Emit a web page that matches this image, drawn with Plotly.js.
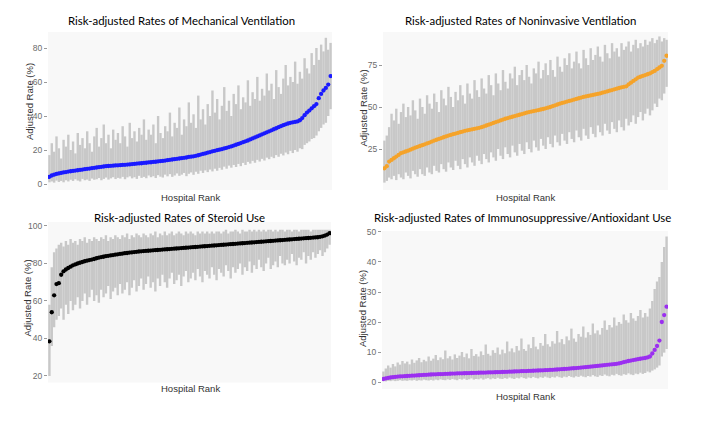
<!DOCTYPE html>
<html>
<head>
<meta charset="utf-8">
<script src="https://cdn.plot.ly/plotly-3.0.1.min.js"></script>
<style>html,body{margin:0;padding:0;background:#fff;}#chart{width:703px;height:421px;}</style>
</head>
<body>
<div id="chart"></div>
<script>
// ---- Data, hospitals sorted by adjusted rate ----
const mvRate = [4.2,5.0,5.5,5.9,6.2,6.5,6.8,7.0,7.3,7.5, 7.7,7.9,8.1,8.3,8.5,8.7,8.9,9.1,9.3,9.5, 9.7,9.9,10.1,10.3,10.5,10.6,10.7,10.8,10.9,11.0, 11.1,11.2,11.3,11.4,11.5,11.7,11.8,12.0,12.1,12.2, 12.4,12.5,12.7,12.8,13.0,13.1,13.3,13.5,13.6,13.8, 14.0,14.2,14.4,14.6,14.8,15.0,15.2,15.4,15.6,15.9, 16.1,16.3,16.6,16.9,17.3,17.7,18.0,18.4,18.8,19.2, 19.5,19.9,20.2,20.5,20.9,21.3,21.7,22.1,22.6,23.1, 23.6,24.1,24.6,25.1,25.6,26.2,26.8,27.4,28.0,28.6, 29.2,29.8,30.4,31.0,31.6,32.2,32.8,33.4,34.0,34.6, 35.1,35.6,36.0,36.3,36.5,36.8,37.5,38.8,40.5,42.0, 43.2,44.5,45.8,47.0,50.5,53.0,55.0,56.5,58.5,63.5];
const mvUpper = [17,24,19,28,21,15,26,22,29,20, 25,18,30,23,27,21,31,24,19,28, 33,22,27,35,24,29,21,32,26,30, 24,34,28,22,36,27,31,25,33,29, 38,26,32,29,35,24,40,30,27,34, 31,42,28,36,33,45,29,38,34,48, 36,41,33,52,38,44,35,47,40,55, 42,50,38,46,57,43,49,40,53,47, 58,44,51,48,61,46,54,50,63,49, 56,52,65,55,59,50,67,57,53,62, 70,58,63,60,72,59,66,62,74,68, 65,77,70,80,73,82,78,86,79,83];
const mvLower = [1.0,1.5,0.8,2.0,1.2,1.8,1.0,2.2,1.5,2.5, 1.8,2.8,2.0,1.5,3.0,2.2,2.6,1.8,3.2,2.5, 2.8,3.5,2.2,3.0,3.8,2.6,3.3,4.0,2.9,3.6, 3.2,4.2,2.8,3.9,4.5,3.3,4.0,3.0,4.8,3.6, 4.2,3.4,5.0,4.0,4.6,3.5,5.2,4.3,3.8,5.5, 4.5,5.8,4.2,5.0,6.2,4.8,5.5,6.5,4.6,6.0, 6.8,5.4,7.2,6.0,7.8,6.5,8.0,7.0,8.5,7.4, 9.0,7.8,9.5,8.4,10.2,9.0,10.8,9.6,11.2,10.0, 11.8,10.5,12.4,11.2,13.0,12.0,13.6,12.5,14.2,13.2, 14.8,13.8,15.5,14.6,16.0,15.2,17.0,16.0,17.8,16.8, 18.5,17.5,19.5,18.2,20.0,19.0,21.0,20.5,23.0,24.0, 25.0,26.5,27.0,28.5,31.0,33.0,35.0,36.0,40.0,44.0];

const nivRate = [13.5,14.8,17.5,18.5,19.5,20.5,21.5,22.5,23.0,23.5, 24.0,24.6,25.2,25.8,26.3,26.8,27.3,27.8,28.3,28.8, 29.4,30.0,30.5,31.0,31.5,32.0,32.5,33.0,33.4,33.8, 34.2,34.6,35.0,35.4,35.8,36.1,36.4,36.7,37.0,37.3, 37.6,38.0,38.5,39.0,39.5,40.0,40.5,41.0,41.5,42.0, 42.5,43.0,43.4,43.8,44.2,44.6,45.0,45.4,45.8,46.2, 46.6,47.0,47.3,47.6,47.9,48.2,48.5,48.8,49.2,49.6, 50.0,50.5,51.0,51.5,52.0,52.4,52.8,53.2,53.6,54.0, 54.4,54.8,55.2,55.6,56.0,56.3,56.6,56.9,57.2,57.5, 57.8,58.1,58.5,58.9,59.3,59.7,60.1,60.5,60.9,61.3, 61.7,62.0,62.3,63.5,64.5,65.5,66.5,67.5,68.0,68.5, 69.0,69.5,70.0,70.8,71.5,72.5,73.5,74.5,77.5,80.5];
const nivUpper = [30,33,38,46,42,49,40,47,52,44, 50,45,54,48,43,55,50,46,57,52, 49,58,53,47,60,55,51,62,56,50, 59,54,63,57,52,64,58,55,66,60, 56,67,61,58,69,63,57,70,64,60, 72,65,61,70,67,74,63,69,72,66, 75,68,64,73,70,77,67,72,76,69, 78,72,68,80,74,71,79,75,82,73, 77,83,76,73,84,79,75,85,78,81, 86,80,77,87,82,79,88,83,85,80, 88,84,86,89,83,87,90,85,88,86, 90,87,89,91,88,90,92,89,91,90];
const nivLower = [5,6,8,7,9,6.5,10,8,7,11, 9,7.5,12,10,8.5,13,10,9,14,11, 10,15,12,11,16,13,11.5,17,14,12.5, 18,15,13,19,16,14,20,17,15,21, 18,16,22,19,17,23,20,18,25,21, 19,26,22,20,27,23,21,28,24,22, 29,25,23,30,26,24,31,27,25,32, 28,26,33,29,27,34,30,28,35,31, 29,36,32,30,37,33,31,38,34,32, 39,35,33,40,36,34,41,37,35,42, 38,36,43,39,41,45,40,44,47,42, 46,49,45,48,52,50,55,54,58,62];

const sterRate = [38.5,54.0,63.0,69.0,69.5,74.0,75.8,76.8,77.6,78.3, 79.0,79.5,80.0,80.4,80.8,81.2,81.5,81.8,82.1,82.4, 82.8,83.1,83.4,83.6,83.9,84.1,84.3,84.5,84.7,84.9, 85.1,85.3,85.5,85.6,85.8,85.9,86.1,86.2,86.4,86.5, 86.6,86.7,86.8,86.9,87.0,87.1,87.2,87.3,87.4,87.5, 87.6,87.7,87.8,87.9,88.0,88.1,88.2,88.3,88.4,88.5, 88.6,88.7,88.8,88.9,89.0,89.1,89.2,89.3,89.4,89.5, 89.6,89.7,89.8,89.9,90.0,90.1,90.2,90.3,90.4,90.5, 90.6,90.7,90.8,90.9,91.0,91.1,91.2,91.3,91.4,91.5, 91.6,91.7,91.8,91.9,92.0,92.1,92.2,92.3,92.4,92.5, 92.6,92.7,92.8,92.9,93.0,93.1,93.2,93.3,93.4,93.5, 93.6,93.7,93.8,93.9,94.0,94.2,94.5,94.9,95.4,96.2];
const sterUpper = [58,78,86,88,90,91,89,92,90,93, 91,92,90,93,92,94,91,93,92,94, 93,92,94,93,95,92,94,93,95,94, 93,95,94,96,93,95,94,96,95,94, 96,95,94,96,95,97,94,96,95,97, 95,96,97,95,96,97,96,95,97,96, 97,96,95,97,96,97,96,97,96,97, 96,97,97,96,97,98,96,97,97,98, 97,96,98,97,97,98,97,98,97,98, 97,98,97,98,98,97,98,97,98,98, 97,98,98,97,98,98,97,98,98,98, 98,97,98,98,98,98,98,98,98,98];
const sterLower = [20,36,46,50,52,56,50,58,53,60, 55,58,62,56,60,64,58,62,66,60, 63,59,66,62,64,68,61,65,67,63, 69,64,66,70,63,67,71,65,68,72, 66,69,73,67,70,65,72,68,74,70, 67,72,75,69,71,74,68,73,76,70, 72,75,71,77,73,70,76,74,72,78, 74,71,77,75,73,79,76,72,78,75, 77,80,74,78,76,81,75,79,77,82, 78,76,80,83,77,79,81,78,84,80, 79,82,80,85,81,79,83,82,86,80, 84,82,86,83,85,87,84,86,88,90];

const immRate = [1.0,1.2,1.35,1.5,1.6,1.7,1.8,1.85,1.9,1.95, 2.0,2.05,2.1,2.15,2.2,2.25,2.3,2.35,2.4,2.45, 2.5,2.52,2.55,2.6,2.62,2.65,2.7,2.72,2.75,2.8, 2.82,2.85,2.88,2.9,2.92,2.95,2.98,3.0,3.02,3.05, 3.08,3.1,3.12,3.15,3.18,3.2,3.22,3.25,3.28,3.3, 3.33,3.36,3.4,3.43,3.46,3.5,3.53,3.56,3.6,3.63, 3.66,3.7,3.73,3.76,3.8,3.83,3.86,3.9,3.94,3.98, 4.02,4.07,4.12,4.17,4.22,4.28,4.34,4.4,4.46,4.52, 4.58,4.65,4.72,4.8,4.88,4.96,5.04,5.12,5.2,5.28, 5.36,5.45,5.54,5.63,5.72,5.8,5.88,5.96,6.05,6.2, 6.4,6.6,6.8,7.0,7.15,7.3,7.45,7.6,7.75,7.9, 8.0,8.2,8.5,9.5,10.7,12.0,13.8,20.0,22.3,25.1];
const immUpper = [3.5,4.5,5.5,4.8,6.0,5.2,6.5,5.8,7.0,6.2, 6.8,5.9,7.5,6.4,7.2,8.0,6.6,7.4,6.9,8.5, 7.1,7.8,9.0,7.3,8.2,7.6,10.5,7.9,8.6,7.5, 9.2,8.0,8.8,10.0,8.3,9.5,7.9,11.0,8.7,9.3, 8.5,10.2,9.0,12.5,9.4,8.8,10.6,9.7,11.5,9.2, 10.8,9.6,13.5,10.2,11.2,9.9,12.0,10.5,14.5,11.0, 10.4,12.5,11.3,15.0,11.8,10.9,13.0,12.1,16.0,12.6, 11.8,13.6,12.8,17.0,13.2,14.3,12.6,15.2,13.9,17.8, 14.5,13.4,16.0,15.1,18.5,14.8,16.6,15.7,19.5,16.2, 17.2,15.8,18.0,20.5,17.4,19.0,18.2,21.5,18.8,20.0, 19.4,22.5,20.6,19.8,23.0,21.2,20.4,22.0,24.0,21.5, 23.0,21.8,24.5,27.0,31.0,33.5,35.0,40.0,45.0,48.5];
const immLower = [0.3,0.2,0.4,0.3,0.5,0.3,0.4,0.6,0.4,0.5, 0.4,0.6,0.5,0.7,0.4,0.6,0.5,0.8,0.6,0.5, 0.7,0.5,0.8,0.6,0.9,0.7,0.6,0.9,0.7,1.0, 0.8,0.6,1.0,0.8,1.1,0.7,0.9,1.2,0.8,1.0, 0.9,1.2,0.8,1.1,1.3,0.9,1.2,1.0,1.4,1.1, 1.0,1.3,1.1,1.5,1.2,1.0,1.4,1.2,1.6,1.3, 1.1,1.5,1.3,1.7,1.4,1.2,1.6,1.4,1.8,1.5, 1.3,1.7,1.5,1.9,1.6,1.4,1.8,1.6,2.0,1.7, 1.5,1.9,1.7,2.1,1.8,1.6,2.0,1.8,2.3,1.9, 1.7,2.2,2.0,2.5,2.1,1.9,2.4,2.2,2.7,2.3, 2.1,2.6,2.4,2.9,2.5,2.3,2.8,2.6,3.1,2.7, 3.0,3.5,3.2,3.8,4.2,4.8,5.5,8.5,9.8,11.0];

const panelTitles = ["Risk-adjusted Rates of Mechanical Ventilation","Risk-adjusted Rates of Noninvasive Ventilation","Risk-adjusted Rates of Steroid Use","Risk-adjusted Rates of Immunosuppressive/Antioxidant Use"];
const xTitle = "Hospital Rank";
const yTitle = "Adjusted Rate (%)";
const yTicks1 = [0,20,40,60,80];
const yTicks2 = [25,50,75];
const yTicks3 = [20,40,60,80,100];
const yTicks4 = [0,10,20,30,40,50];

// ---- Build ----
const W = 703, H = 421;
const px = v => v / W;
const py = v => 1 - v / H;

function panel(rate, upper, lower, color, ax){
  const rank = rate.map((_, i) => i + 1);
  return {
    type: 'scatter', mode: 'markers',
    x: rank, y: rate,
    xaxis: 'x' + ax, yaxis: 'y' + ax,
    marker: {color: color, size: 4.3, line: {width: 0}},
    error_y: {type: 'data', symmetric: false,
      array: upper.map((u, i) => u - rate[i]),
      arrayminus: rate.map((r, i) => r - lower[i]),
      color: '#c8c8c8', thickness: 2.4, width: 0},
    hoverinfo: 'skip'
  };
}

const data = [
  panel(mvRate, mvUpper, mvLower, '#1a1aff', ''),
  panel(nivRate, nivUpper, nivLower, '#f5a32a', '2'),
  panel(sterRate, sterUpper, sterLower, '#000000', '3'),
  panel(immRate, immUpper, immLower, '#9b2ff0', '4')
];

const N = mvRate.length;
function xa(l, r, anchor){
  return {domain: [px(l), px(r)], range: [0.4, N + 0.6], showticklabels: false, ticks: '',
    showgrid: false, zeroline: false, showline: false, anchor: anchor, fixedrange: true};
}
function ya(t, b, range, ticks, anchor){
  return {domain: [py(b), py(t)], range: range, tickvals: ticks, ticks: 'outside', ticklen: 3,
    tickwidth: 1, tickcolor: '#9a9a9a', showgrid: false, zeroline: false, showline: false,
    tickfont: {family: 'Liberation Sans, Arial, sans-serif', size: 8.5, color: '#6b6b6b'},
    anchor: anchor, fixedrange: true};
}

const titleFont = {family: 'Lato, Open Sans, sans-serif', size: 11.4, color: '#000000'};
const labFont = {family: 'Liberation Sans, Arial, sans-serif', size: 9.5, color: '#333'};
function ann(text, x, y, font, angle){
  return {text: text, x: px(x), y: py(y), xref: 'paper', yref: 'paper', showarrow: false,
    xanchor: 'center', yanchor: 'middle', font: font, textangle: angle || 0};
}

const layout = {
  width: W, height: H, margin: {l: 0, r: 0, t: 0, b: 0},
  paper_bgcolor: '#ffffff', plot_bgcolor: '#f8f8f8', showlegend: false,
  xaxis: xa(48, 332, 'y'),   yaxis: ya(32, 190, [-3.53, 89.41], yTicks1, 'x'),
  xaxis2: xa(383, 668, 'y2'), yaxis2: ya(32, 190, [0.6, 94.64], yTicks2, 'x2'),
  xaxis3: xa(48, 331, 'y3'), yaxis3: ya(222, 382.5, [16.53, 102.13], yTicks3, 'x3'),
  xaxis4: xa(382, 668, 'y4'), yaxis4: ya(231, 389, [-2.33, 50.33], yTicks4, 'x4'),
  annotations: [
    ann(panelTitles[0], 181, 21, titleFont),
    ann(panelTitles[1], 520, 21, titleFont),
    ann(panelTitles[2], 179, 217, titleFont),
    ann(panelTitles[3], 522, 217, titleFont),
    ann(xTitle, 190, 197, labFont), ann(xTitle, 525.5, 197, labFont),
    ann(xTitle, 190, 388, labFont), ann(xTitle, 525.5, 396.5, labFont),
    ann(yTitle, 29, 102, labFont, -90), ann(yTitle, 363.5, 108, labFont, -90),
    ann(yTitle, 26.5, 298, labFont, -90), ann(yTitle, 362, 309, labFont, -90)
  ]
};

Plotly.newPlot('chart', data, layout, {displayModeBar: false, staticPlot: true});
</script>
</body>
</html>
